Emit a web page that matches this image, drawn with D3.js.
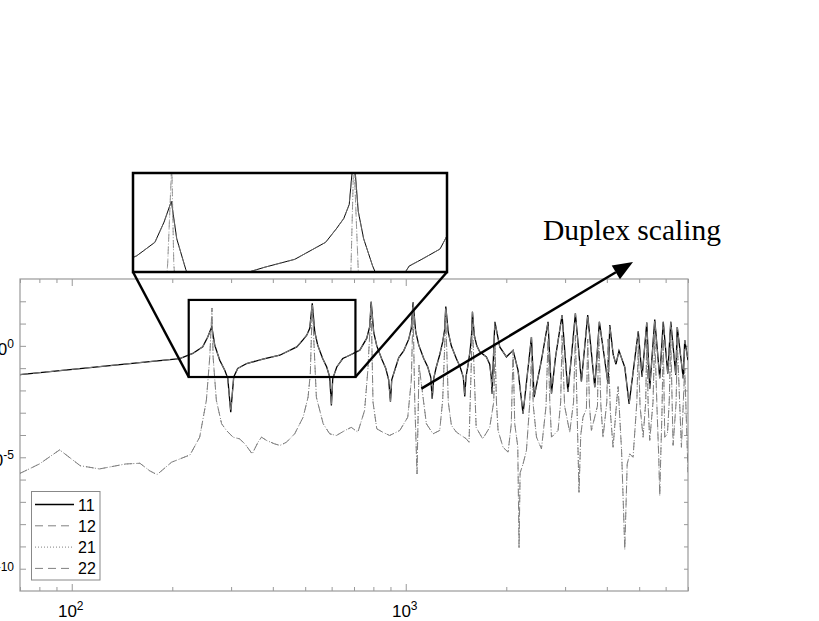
<!DOCTYPE html>
<html>
<head>
<meta charset="utf-8">
<script src="https://cdn.jsdelivr.net/npm/d3@7/dist/d3.min.js"></script>
<style>
  body { margin: 0; background: #fff; }
  svg text { font-family: "Liberation Sans", Arial, sans-serif; }
</style>
</head>
<body>
<div id="chart"></div>
<script>
"use strict";

/*
 * Values (frequency, magnitude).
 * 22 sits on top of 11 and 21 on top of 12, so they share the readings.
 */
var freq11 = [70, 210.6, 230.3, 246.7, 255.4, 262.6, 268, 277.4, 287.2, 293.2, 299.3, 305.5, 314, 334, 373.3, 419.6,
  471.8, 491.6, 505.4, 516, 525, 534, 545, 564, 580, 592, 599, 604.6, 621.6, 647.8, 679.6, 728.5, 764, 780, 788,
  802, 819, 848, 871, 889, 900, 908, 927, 953, 986, 1021, 1039, 1052, 1071, 1094, 1132, 1164, 1188, 1200,
  1213, 1234, 1264, 1290, 1307, 1318, 1341, 1369, 1417, 1456, 1487, 1502, 1515, 1538, 1560, 1574, 1584,
  1604, 1632, 1666, 1744, 1784, 1803, 1813, 1838, 1849,
  1912, 2002, 2096, 2169, 2245, 2379, 2423, 2549, 2667, 2731, 2809, 2938, 2992, 3059, 3133, 3221,
  3357, 3506, 3681, 3800, 4034, 4082, 4180, 4260, 4350, 4527, 4664, 4968, 5100, 5268, 5377, 5566,
  5761, 5902, 6088, 6216, 6434, 6501, 6774, 6844, 7000];
var mag11 = [0.0515, 0.27, 0.455, 0.90, 2.5, 7.2, 1.08, 0.227, 0.08, 0.035, 0.00106, 0.040, 0.096, 0.161, 0.252, 0.38,
  0.90, 1.8, 3.0, 6.1, 81, 4.3, 1.08, 0.27, 0.113, 0.040, 0.0021, 0.034, 0.113, 0.27, 0.38, 0.64, 2.15, 7.2, 96,
  4, 1.0, 0.25, 0.1, 0.03, 0.0031, 0.03, 0.08, 0.3, 0.6, 2.0, 6, 90, 4.3, 1.08, 0.27, 0.113, 0.04, 0.0043,
  0.035, 0.11, 0.4, 1.5, 5, 58, 4, 1.0, 0.27, 0.11, 0.04, 0.0054, 0.04, 0.15, 0.7, 3, 34,
  3, 1.0, 0.54, 0.32, 0.15, 0.04, 0.0072, 1.5, 12,
  0.9, 0.32, 0.64, 0.08, 0.0009, 2.5, 0.005, 0.227, 12, 0.0072, 0.32, 24, 0.64, 0.0085, 0.32, 29,
  0.025, 24, 0.014, 12, 0.02, 8.6, 0.4, 0.15, 0.6, 0.11, 0.0025, 4.5, 0.04, 11, 0.012, 15,
  0.035, 12, 0.057, 12, 0.05, 7, 0.035, 1.8, 0.227];

var freq12 = [70, 80, 92, 106, 121, 145, 160, 171, 180, 199, 226, 241.6, 253, 259, 263, 265, 271, 281, 290.5,
  304, 318, 330, 347, 361, 370, 383, 405, 420, 439, 465, 493, 510, 518, 525, 540, 566, 592, 620, 658,
  687, 719, 753, 770, 788, 798, 819, 853, 895, 960, 1014, 1039, 1052, 1064, 1081, 1096, 1153, 1207,
  1264, 1290, 1318, 1341, 1370, 1418, 1519, 1547, 1584, 1625, 1666, 1700, 1784, 1834, 1851, 1869,
  1890, 1956, 2025, 2070, 2096, 2120, 2165, 2184, 2200, 2245, 2298, 2348, 2379, 2410, 2463, 2549,
  2631, 2667, 2700, 2731, 2858, 2910, 2938, 2990, 3097, 3180, 3221, 3260, 3302, 3342, 3394, 3475,
  3506, 3550, 3597, 3750, 3783, 3840, 3897, 4000, 4034, 4100, 4176, 4280, 4323, 4428, 4527, 4603,
  4686, 4793, 4920, 4968, 5030, 5136, 5230, 5268, 5320, 5377, 5500, 5566, 5650, 5722, 5761, 5800,
  5850, 5902, 5963, 6075, 6150, 6216, 6316, 6450, 6501, 6690, 6844, 7000];
var mag12 = [1.9e-6, 5e-6, 2.15e-5, 4.2e-6, 3.0e-6, 5e-6, 5.4e-6, 2.5e-6, 1.66e-6, 6e-6, 1.28e-5, 8e-5, 0.0036, 0.32, 50, 0.32, 0.0036, 3.2e-4, 1.6e-4,
  8e-5, 6.7e-5, 4e-5, 1.42e-5, 4.7e-5, 8e-5, 5.7e-5, 4e-5, 3.4e-5, 4.7e-5, 1.13e-4, 6.3e-4, 0.005, 0.057, 68, 0.005, 3.2e-4, 1.13e-4, 9.5e-5, 1.6e-4,
  2.2e-4, 1.34e-4, 0.00127, 0.08, 60, 0.003, 1.9e-4, 1.34e-4, 9.5e-5, 1.6e-4, 6.3e-4, 0.0285, 40, 0.0036, 1.8e-6, 0.135, 3.2e-4, 1.13e-4,
  1.6e-4, 0.0036, 20, 0.003, 2.7e-4, 1.34e-4, 6.7e-5, 4.7e-5, 10, 2.2e-4, 1.13e-4, 6.7e-5, 2.2e-4, 0.003, 1, 0.003,
  1.6e-4, 2.8e-5, 1.7e-5, 3e-4, 0.64, 3.2e-4, 3e-5, 8.8e-10, 2e-6, 5e-6, 2e-5, 0.002, 0.3, 0.002, 8e-5, 2.4e-5,
  0.002, 2, 0.003, 8e-5, 1.6e-4, 0.003, 3, 0.002, 1.34e-4, 0.003, 3, 0.001, 2.65e-7, 1e-4, 6.3e-4, 0.0015,
  2, 0.002, 1.6e-4, 0.002, 3, 0.002, 8e-5, 0.003, 2, 0.001, 2.8e-5, 0.003, 0.015, 2e-5, 7.5e-10, 5e-6,
  1.42e-5, 1e-5, 0.003, 1, 0.002, 8e-5, 0.003, 2, 0.002, 5.7e-5, 0.003, 3, 0.002, 1e-5, 1.9e-7, 1e-5,
  0.001, 2, 8e-5, 1.13e-4, 0.003, 2, 3.4e-5, 0.003, 1.5, 2.8e-5, 0.1, 2.1e-6];

var legendNames = ["11", "12", "21", "22"];
var xLabelTicks = [100, 1000];
var yLabelTicks = [1, 1e-5, 1e-10];

// zoomed region (data space) and the enlarged copy of it
var zoomFreq = [224, 707];
var zoomMag = [0.04, 115];
var insetFreq = [227, 748];
var insetMag = [0.2, 30];

var width = 819, height = 621;
var plot = { left: 20, top: 279, right: 688, bottom: 591 };
var inset = { left: 133, top: 173, right: 447, bottom: 272 };
var axisGrey = "#999";
var lineGrey = "#808080";

var svg = d3.select("#chart")
  .append("svg")
  .attr("width", width)
  .attr("height", height)
  .style("display", "block");

svg.append("rect").attr("width", width).attr("height", height).attr("fill", "#fff");

var x = d3.scaleLog().domain([70, 7000]).range([plot.left, plot.right]);
var y = d3.scaleLog().domain([1e-11, 1e3]).range([plot.bottom, plot.top]);

var series = [
  { name: "11", f: freq11, m: mag11, color: "#000", w: 1.3, dash: null },
  { name: "12", f: freq12, m: mag12, color: lineGrey, w: 1, dash: "8,5" },
  { name: "21", f: freq12, m: mag12, color: lineGrey, w: 1, dash: "1,2" },
  { name: "22", f: freq11, m: mag11, color: lineGrey, w: 1, dash: "8,5" }
];

var defs = svg.append("defs");
defs.append("clipPath").attr("id", "plotClip")
  .append("rect")
  .attr("x", plot.left).attr("y", plot.top)
  .attr("width", plot.right - plot.left).attr("height", plot.bottom - plot.top);
defs.append("clipPath").attr("id", "insetClip")
  .append("rect")
  .attr("x", inset.left).attr("y", inset.top)
  .attr("width", inset.right - inset.left).attr("height", inset.bottom - inset.top);

/*
 * Axes: ticks inward on all four sides, labels only at the decades
 */
var xTicks = x.ticks();
var yTicks = d3.range(-10, 3).map(function(e) { return Math.pow(10, e); });
var isDecade = function(v) { return Math.abs(Math.log10(v) - Math.round(Math.log10(v))) < 1e-9; };

var axes = svg.append("g").attr("class", "axes");

[["bottom", plot.bottom], ["top", plot.top]].forEach(function(side) {
  var g = axes.append("g")
    .attr("transform", "translate(0," + side[1] + ")")
    .call((side[0] == "bottom" ? d3.axisBottom(x) : d3.axisTop(x))
      .tickValues(xTicks)
      .tickSize(0)
      .tickFormat(""));
  g.select(".domain").remove();
  g.selectAll(".tick line")
    .attr("y2", function(d) { var l = isDecade(d) ? 7 : 4; return side[0] == "bottom" ? -l : l; })
    .attr("stroke", axisGrey);
});

[["left", plot.left], ["right", plot.right]].forEach(function(side) {
  var g = axes.append("g")
    .attr("transform", "translate(" + side[1] + ",0)")
    .call((side[0] == "left" ? d3.axisLeft(y) : d3.axisRight(y))
      .tickValues(yTicks)
      .tickSize(0)
      .tickFormat(""));
  g.select(".domain").remove();
  g.selectAll(".tick line")
    .attr("x2", side[0] == "left" ? 6 : -4)
    .attr("stroke", axisGrey);
});

axes.append("rect")
  .attr("x", plot.left).attr("y", plot.top)
  .attr("width", plot.right - plot.left).attr("height", plot.bottom - plot.top)
  .attr("fill", "none")
  .attr("stroke", axisGrey)
  .attr("stroke-width", 1.2);

// x labels 10^2, 10^3
var xl = axes.selectAll(".xlab")
  .data(xLabelTicks)
  .enter().append("text")
  .attr("class", "xlab")
  .attr("x", function(d) { return x(d) - 1; })
  .attr("y", 617)
  .attr("text-anchor", "middle")
  .attr("font-size", "17px")
  .attr("fill", "#000");
xl.append("tspan").text("10");
xl.append("tspan")
  .attr("dy", -7)
  .attr("font-size", "12px")
  .text(function(d) { return Math.round(Math.log10(d)); });

// y labels (they run off the left edge, as in the original)
var yl = axes.selectAll(".ylab")
  .data(yLabelTicks)
  .enter().append("text")
  .attr("class", "ylab")
  .attr("x", 14)
  .attr("y", function(d) { return y(d) + 9; })
  .attr("text-anchor", "end")
  .attr("font-size", "17px")
  .attr("fill", "#000");
yl.append("tspan").text("10");
yl.append("tspan")
  .attr("dy", -7)
  .attr("font-size", "12px")
  .text(function(d) { return Math.round(Math.log10(d)); });

/*
 * Curves
 */
var drawSeries = function(parent, xs, ys, clipId, widthScale) {
  var line = d3.line()
    .x(function(d) { return xs(d[0]); })
    .y(function(d) { return ys(d[1]); });
  var g = parent.append("g").attr("clip-path", "url(#" + clipId + ")");
  series.forEach(function(s) {
    var pts = s.f.map(function(f, i) { return [f, s.m[i]]; });
    g.append("path")
      .datum(pts)
      .attr("d", line)
      .attr("fill", "none")
      .attr("stroke", s.color)
      .attr("stroke-width", s.w * widthScale)
      .attr("stroke-dasharray", s.dash)
      .attr("stroke-linejoin", "miter");
  });
};

drawSeries(svg, x, y, "plotClip", 1);

/*
 * Zoom box, its enlarged copy and the connecting lines
 */
var zx0 = x(zoomFreq[0]), zx1 = x(zoomFreq[1]);
var zy0 = y(zoomMag[1]), zy1 = y(zoomMag[0]);

svg.append("rect")
  .attr("x", inset.left).attr("y", inset.top)
  .attr("width", inset.right - inset.left).attr("height", inset.bottom - inset.top)
  .attr("fill", "#fff");

var x2 = d3.scaleLog().domain(insetFreq).range([inset.left, inset.right]);
var y2 = d3.scaleLog().domain(insetMag).range([inset.bottom, inset.top]);
drawSeries(svg, x2, y2, "insetClip", 0.75);

svg.append("rect")
  .attr("x", inset.left).attr("y", inset.top)
  .attr("width", inset.right - inset.left).attr("height", inset.bottom - inset.top)
  .attr("fill", "none")
  .attr("stroke", "#000")
  .attr("stroke-width", 2.5);

svg.append("rect")
  .attr("x", zx0).attr("y", zy0)
  .attr("width", zx1 - zx0).attr("height", zy1 - zy0)
  .attr("fill", "none")
  .attr("stroke", "#000")
  .attr("stroke-width", 2.2);

svg.append("line")
  .attr("x1", inset.left).attr("y1", inset.bottom)
  .attr("x2", zx0).attr("y2", zy1)
  .attr("stroke", "#000").attr("stroke-width", 2.5);
svg.append("line")
  .attr("x1", inset.right).attr("y1", inset.bottom)
  .attr("x2", zx1).attr("y2", zy1)
  .attr("stroke", "#000").attr("stroke-width", 2.5);

/*
 * Annotation arrow + text
 */
var ax0 = x(1114), ay0 = y(0.012);
var tip = [633, 262];
var dx = tip[0] - ax0, dy = tip[1] - ay0, len = Math.sqrt(dx * dx + dy * dy);
var ux = dx / len, uy = dy / len;
var headLen = 20, headW = 8;
var bx = tip[0] - headLen * ux, by = tip[1] - headLen * uy;

svg.append("line")
  .attr("x1", ax0).attr("y1", ay0)
  .attr("x2", bx).attr("y2", by)
  .attr("stroke", "#000").attr("stroke-width", 2.5);
svg.append("polygon")
  .attr("points", [tip, [bx - headW * uy, by + headW * ux], [bx + headW * uy, by - headW * ux]]
    .map(function(p) { return p.join(","); }).join(" "))
  .attr("fill", "#000");

svg.append("text")
  .attr("x", 543)
  .attr("y", 240)
  .attr("font-size", "29.5px")
  .style("font-family", "'Liberation Serif', 'Times New Roman', serif")
  .attr("textLength", 178)
  .attr("lengthAdjust", "spacingAndGlyphs")
  .attr("fill", "#000")
  .text("Duplex scaling");

/*
 * Legend
 */
var legend = svg.append("g").attr("class", "legend");
legend.append("rect")
  .attr("x", 31.5).attr("y", 491.5)
  .attr("width", 68.5).attr("height", 88.5)
  .attr("fill", "#fff")
  .attr("stroke", "#888")
  .attr("stroke-width", 1);

var rows = legend.selectAll(".row")
  .data(series)
  .enter().append("g")
  .attr("class", "row")
  .attr("transform", function(d, i) { return "translate(0," + (504.5 + i * 21.3) + ")"; });
rows.append("line")
  .attr("x1", 35).attr("x2", 74)
  .attr("stroke", function(d) { return d.color; })
  .attr("stroke-width", function(d) { return d.w; })
  .attr("stroke-dasharray", function(d) { return d.dash; });
rows.append("text")
  .attr("x", 78)
  .attr("y", 6)
  .attr("font-size", "16px")
  .attr("fill", "#000")
  .text(function(d, i) { return legendNames[i]; });
</script>
</body>
</html>
